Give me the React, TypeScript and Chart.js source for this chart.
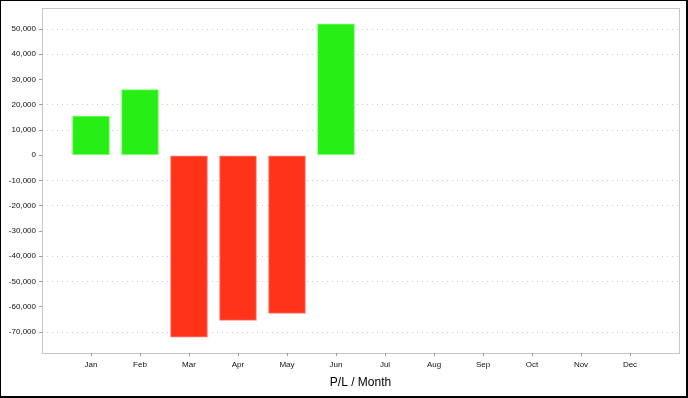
import React, { useEffect, useRef } from "react";
import { Chart, registerables } from "chart.js";

Chart.register(...registerables);

const months = ["Jan", "Feb", "Mar", "Apr", "May", "Jun", "Jul", "Aug", "Sep", "Oct", "Nov", "Dec"];
const profitLoss: (number | null)[] = [15500, 26000, -72000, -65400, -62600, 52100, null, null, null, null, null, null];
const yTickValues = [-70000, -60000, -50000, -40000, -30000, -20000, -10000, 0, 10000, 20000, 30000, 40000, 50000];
const hiddenGridValues = [30000, 0, -30000, -60000];
const axisTitle = "P/L / Month";

const plotBorder = {
  id: "plotBorder",
  afterDraw(chart: any) {
    const { ctx, chartArea } = chart;
    ctx.save();
    ctx.strokeStyle = "#8c8c9c";
    ctx.lineWidth = 1;
    ctx.setLineDash([1, 1]);
    ctx.strokeRect(
      Math.round(chartArea.left) + 0.5,
      Math.round(chartArea.top) + 0.5,
      Math.round(chartArea.right - chartArea.left),
      Math.round(chartArea.bottom - chartArea.top)
    );
    ctx.restore();
  },
};

export default function App() {
  const ref = useRef<HTMLCanvasElement | null>(null);

  useEffect(() => {
    document.body.style.margin = "0";
    const labels = ["", ...months, ""];
    const data = [null, ...profitLoss, null];
    const chart = new Chart(ref.current as HTMLCanvasElement, {
      type: "bar",
      data: {
        labels,
        datasets: [
          {
            data,
            backgroundColor: (c: any) => ((c.raw ?? 0) >= 0 ? "#27ee14" : "#ff3318"),
            borderColor: (c: any) => ((c.raw ?? 0) >= 0 ? "#7dff6a" : "#ff8080"),
            borderWidth: 1,
            borderSkipped: false,
            barThickness: 37,
          },
        ],
      },
      options: {
        animation: false,
        responsive: false,
        maintainAspectRatio: false,
        layout: { padding: { left: 0, top: 7, right: 9, bottom: 0 } },
        plugins: { legend: { display: false }, tooltip: { enabled: false } },
        scales: {
          x: {
            type: "category",
            offset: false,
            afterFit: (s: any) => {
              s.height = 45;
            },
            grid: {
              display: true,
              offset: false,
              drawOnChartArea: false,
              drawTicks: true,
              tickLength: 3,
              tickColor: (c: any) =>
                c.index === 0 || c.index === months.length + 1 ? "rgba(0,0,0,0)" : "#9a9aa6",
            },
            border: { display: false },
            ticks: {
              color: "#111",
              font: { family: "'Liberation Sans', Arial, sans-serif", size: 8 },
              padding: 4,
              maxRotation: 0,
              autoSkip: false,
            },
            title: {
              display: true,
              text: axisTitle,
              color: "#000",
              font: { family: "'Liberation Sans', Arial, sans-serif", size: 12 },
              padding: { top: 0, bottom: 8 },
            },
          },
          y: {
            min: -78300,
            max: 58400,
            afterFit: (s: any) => {
              s.width = 42;
            },
            afterBuildTicks: (s: any) => {
              s.ticks = yTickValues.map((v) => ({ value: v }));
            },
            grid: {
              color: (c: any) =>
                c.tick && hiddenGridValues.includes(c.tick.value) ? "rgba(0,0,0,0)" : "#c4c4f2",
              lineWidth: 1,
              tickLength: 3,
              tickColor: "#9a9aa6",
            },
            border: { display: false, dash: [1, 4] },
            ticks: {
              color: "#111",
              padding: 3,
              font: { family: "'Liberation Sans', Arial, sans-serif", size: 8 },
              callback: (v: any) => Number(v).toLocaleString("en-US"),
            },
          },
        },
      },
      plugins: [plotBorder],
    });
    return () => chart.destroy();
  }, []);

  return (
    <div style={{ position: "relative", width: 688, height: 398, background: "#fff" }}>
      <canvas ref={ref} width={688} height={398} style={{ position: "absolute", left: 0, top: 0 }} />
      <div
        style={{
          position: "absolute",
          left: 0,
          top: 0,
          width: 688,
          height: 398,
          boxSizing: "border-box",
          borderTop: "1px solid #000",
          borderLeft: "1px solid #000",
          borderRight: "2px solid #000",
          borderBottom: "2px solid #000",
          pointerEvents: "none",
        }}
      />
    </div>
  );
}
